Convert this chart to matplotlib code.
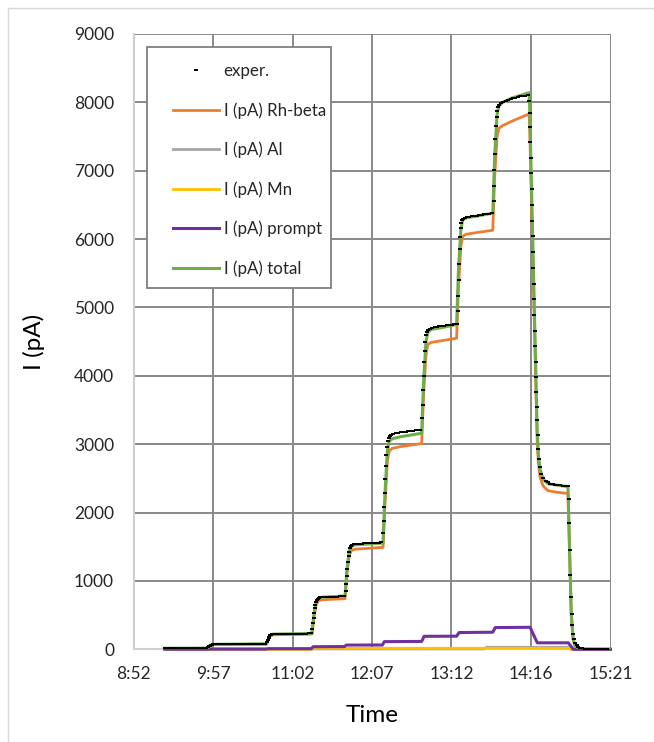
import matplotlib
matplotlib.use("Agg")
import matplotlib.pyplot as plt
from matplotlib.lines import Line2D
from matplotlib.patches import Rectangle

plt.rcParams['font.family'] = ['Lato', 'DejaVu Sans']

# time in minutes after midnight
tick_labels = ["8:52", "9:57", "11:02", "12:07", "13:12", "14:16", "15:21"]
t_start, t_end = 532, 921

# experiment (black dashes)
exp_t = [557.5, 559.5, 561.5, 563.5, 565.5, 567.5, 569.5, 571.5, 573.5, 575.5, 577.5, 579.5, 581.5, 583.5, 585.5, 587.5, 589.5, 591.5,
         592.5, 593.3, 594.1, 595, 596, 597,
         599, 601, 603, 605, 607, 609, 611, 613, 615, 617, 619, 621, 623, 625, 627, 629, 631, 633, 635, 637, 639,
         640.8, 641.5, 642.2, 642.9, 643.6, 644.3, 645.2,
         647, 649, 651, 653, 655, 657, 659, 661, 663, 665, 667, 669, 671, 673, 675, 677,
         677.9, 678.4, 678.9, 679.4, 679.9, 680.4, 681, 681.7, 682.5, 683.5, 684.5,
         686, 688, 690, 692, 694, 696, 698, 700, 702, 704,
         705, 705.5, 706, 706.5, 707, 707.5, 708.1, 708.8, 709.6, 710.5,
         712, 714, 716, 718, 720, 722, 724, 726, 728, 730, 732, 734,
         735.8, 736.2, 736.6, 737, 737.4, 737.8, 738.2, 738.7, 739.3, 740, 741,
         742, 744, 746, 748, 750, 752, 754, 756, 758, 760, 762, 764, 766,
         767.6, 768, 768.4, 768.8, 769.2, 769.6, 770.1, 770.7, 771.4, 772.2,
         773.5, 775.5, 777.5, 779.5, 781.5, 783.5, 785.5, 787.5, 789.5, 791.5, 793.5, 795.5,
         796.3, 796.7, 797.1, 797.5, 797.9, 798.3, 798.8, 799.4, 800.1, 801,
         802, 804, 806, 808, 810, 812, 814, 816, 818, 820, 822, 824,
         825.6, 826, 826.4, 826.8, 827.2, 827.6, 828.1, 828.7, 829.4, 830.2,
         831.5, 833.5, 835.5, 837.5, 839.5, 841.5, 843.5, 845.5, 847.5, 849.5, 851.5, 853.5,
         854.8, 855.1, 855.4, 855.7, 856.0, 856.3, 856.6, 856.9, 857.2, 857.5, 857.8, 858.1, 858.4, 858.7,
         859.0, 859.3, 859.6, 859.9, 860.2, 860.5, 860.8, 861.1, 861.5, 862.0, 862.6, 863.3, 864.2,
         866, 868, 870, 872, 874, 876, 878, 880, 882, 884, 886,
         886.8, 887.3, 887.8, 888.3, 888.8, 889.3, 889.9, 890.6, 891.4, 892.3, 893.3, 894.5, 896, 898,
         900, 903, 906, 909, 912, 915, 918]
exp_i = [12, 12, 12, 13, 13, 13, 13, 14, 14, 14, 14, 15, 15, 15, 16, 16, 17, 19,
         28, 42, 55, 63, 68, 71,
         72, 73, 73, 74, 74, 75, 75, 75, 76, 76, 77, 77, 77, 78, 78, 78, 79, 79, 80, 80, 80,
         100, 130, 160, 185, 203, 214, 221,
         224, 225, 226, 226, 227, 227, 228, 228, 229, 229, 230, 230, 231, 231, 232, 232,
         300, 380, 460, 535, 600, 650, 690, 720, 740, 752, 758,
         762, 764, 766, 767, 769, 770, 772, 773, 775, 776,
         860, 960, 1070, 1180, 1280, 1360, 1430, 1480, 1512, 1530,
         1538, 1542, 1545, 1547, 1549, 1551, 1553, 1555, 1557, 1559, 1561, 1563,
         1700, 1880, 2080, 2290, 2490, 2680, 2840, 2960, 3040, 3090, 3120,
         3140, 3152, 3160, 3167, 3173, 3178, 3183, 3188, 3193, 3197, 3201, 3205, 3209,
         3380, 3580, 3790, 4000, 4200, 4370, 4500, 4590, 4640, 4670,
         4688, 4700, 4708, 4715, 4722, 4728, 4734, 4740, 4745, 4750, 4755, 4760,
         4950, 5170, 5400, 5630, 5850, 6030, 6160, 6240, 6280, 6300,
         6310, 6318, 6325, 6332, 6338, 6344, 6350, 6355, 6360, 6366, 6372, 6378,
         6560, 6780, 7010, 7240, 7460, 7650, 7790, 7880, 7930, 7965,
         7990, 8010, 8025, 8038, 8050, 8060, 8070, 8078, 8086, 8093, 8100, 8106,
         8020, 7850, 7640, 7420, 7190, 6960, 6730, 6500, 6270, 6040, 5810, 5580, 5350, 5120,
         4890, 4660, 4430, 4200, 3980, 3760, 3550, 3350, 3130, 2930, 2780, 2660, 2570,
         2500, 2465, 2440, 2425, 2415, 2408, 2402, 2398, 2395, 2392, 2390,
         2200, 1850, 1450, 1080, 760, 520, 350, 230, 150, 95, 60, 38, 22, 12,
         7, 5, 3, 2, 1, 1, 0]

# Rh-beta (orange)
rh_t = [557.5, 592.5, 594, 596, 598, 640.5, 642, 644, 646, 677.5, 679, 681, 683, 686, 704.5,
        706, 708, 710, 713, 735.5, 737, 739, 740.5, 743, 750, 767, 768.5, 770.5, 772, 775, 782, 795.5,
        797, 799, 800.5, 803, 810, 825, 826.5, 828.5, 830, 833, 840, 854.5, 855, 861.2, 862.2, 863.5,
        866, 870, 878, 886.3, 887.5, 889, 890.5, 892, 895, 900, 921]
rh_i = [10, 15, 45, 62, 68, 75, 150, 200, 212, 222, 450, 660, 715, 725, 740,
        1100, 1380, 1450, 1465, 1490, 2100, 2750, 2900, 2940, 2965, 3010, 3700, 4300, 4460, 4490, 4510, 4550,
        5300, 5900, 6040, 6070, 6090, 6130, 6900, 7500, 7620, 7660, 7720, 7830, 7700, 3050, 2720, 2520,
        2390, 2320, 2295, 2280, 1500, 500, 150, 50, 10, 0, 0]

# Al (grey)
al_t = [557.5, 818, 820, 886.3, 889, 921]
al_i = [5, 6, 30, 30, 0, 0]

# Mn (yellow)
mn_t = [557.5, 677, 679, 886.3, 889, 921]
mn_i = [0, 0, 15, 15, 0, 0]

# prompt (purple)
pr_t = [557.5, 593, 594, 640, 642, 677, 678.5, 704, 705.5, 735, 736.5, 767, 769, 795.5, 797.5,
        825, 827, 855.4, 861.3, 886.6, 890.7, 921]
pr_i = [1, 1, 3, 3, 9, 9, 38, 40, 62, 63, 112, 115, 190, 192, 245,
        250, 318, 322, 95, 95, 0, 0]

# total (green)
tot_t = [557.5, 592.5, 594, 596, 598, 640.5, 642, 644, 646, 677.5, 679, 681, 683, 686, 704.5,
         706, 708, 710, 713, 735.5, 737, 739, 740.5, 743, 750, 767, 768.5, 770.5, 772, 775, 782, 795.5,
         797, 799, 800.5, 803, 810, 825, 826.5, 828.5, 830, 833, 840, 854.5, 855, 861.2, 862.2, 863.5,
         866, 870, 878, 886.3, 887.5, 889, 890.5, 892, 895, 900, 921]
tot_i = [15, 18, 50, 67, 73, 80, 160, 210, 222, 232, 490, 700, 750, 762, 780,
         1150, 1440, 1510, 1528, 1555, 2250, 2900, 3040, 3080, 3110, 3160, 3900, 4500, 4640, 4680, 4700, 4750,
         5550, 6150, 6280, 6310, 6330, 6380, 7200, 7830, 7950, 8000, 8060, 8140, 8000, 3200, 2850, 2640,
         2490, 2420, 2400, 2380, 1550, 520, 160, 55, 12, 2, 0]

W, H = 654, 742
fig = plt.figure(figsize=(W / 100, H / 100), dpi=100)
ax = fig.add_axes([133.5 / W, 1 - 649.3 / H, 477 / W, 615.3 / H])

ax.plot(rh_t, rh_i, color='#ED7D31', lw=2.0, label='I (pA) Rh-beta', zorder=3)
ax.plot(al_t, al_i, color='#A5A5A5', lw=2.0, label='I (pA) Al', zorder=3, clip_on=False)
ax.plot(mn_t, mn_i, color='#FFC000', lw=2.0, label='I (pA) Mn', zorder=3, clip_on=False)
ax.plot(pr_t, pr_i, color='#7030A0', lw=2.2, label='I (pA) prompt', zorder=3, clip_on=False)
ax.plot(tot_t, tot_i, color='#70AD47', lw=2.2, label='I (pA) total', zorder=3)
ax.plot(exp_t, exp_i, ls='none', marker='_', ms=3.2, mew=1.4, color='black', label='exper.', zorder=4)

ax.set_xlim(t_start, t_end)
ax.set_ylim(0, 9000)
ax.set_xticks([t_start + k * (t_end - t_start) / 6 for k in range(7)])
ax.set_xticklabels(tick_labels)
ax.set_yticks(range(0, 9001, 1000))
ax.tick_params(length=0, labelsize=12.5, colors='#262626')
ax.tick_params(axis='y', pad=14)
ax.tick_params(axis='x', pad=12)
ax.grid(True, color='#898989', lw=1.4)
ax.set_axisbelow(True)
for s in ['top', 'right']:
    ax.spines[s].set_visible(False)
for s in ['left', 'bottom']:
    ax.spines[s].set_color('#d0d0d0')
    ax.spines[s].set_linewidth(1.5)

ax.set_xlabel('Time', fontsize=17.5, color='#000000')
ax.set_ylabel('I (pA)', fontsize=17.5, color='#000000')
ax.xaxis.set_label_coords(0.5, -0.09)
ax.yaxis.set_label_coords(-0.185, 0.5)

# legend box drawn separately, entries placed inside it
fig.add_artist(Rectangle((146.7 / W, 1 - 288 / H), (331 - 146.7) / W, (288 - 47.3) / H,
                         transform=fig.transFigure, facecolor='white', edgecolor='#7f7f7f',
                         lw=1.3, zorder=5))
h, l = ax.get_legend_handles_labels()
order = [5, 0, 1, 2, 3, 4]
leg = fig.legend([h[i] for i in order], [l[i] for i in order],
                 loc='upper left', bbox_to_anchor=(172.7 / W, 1 - 63 / H),
                 fontsize=12.2, frameon=False, borderpad=0, labelspacing=1.36,
                 handlelength=2.75, handletextpad=0.25, borderaxespad=0)
leg.set_zorder(6)
for text in leg.get_texts():
    text.set_color('#262626')

# outer chart border
fig.add_artist(Line2D([8 / W, 8 / W], [0, 1 - 8 / H], transform=fig.transFigure, color='#d9d9d9', lw=1))
fig.add_artist(Line2D([8 / W, 1], [1 - 8 / H, 1 - 8 / H], transform=fig.transFigure, color='#d9d9d9', lw=1))

fig.savefig('out.png', dpi=100)
